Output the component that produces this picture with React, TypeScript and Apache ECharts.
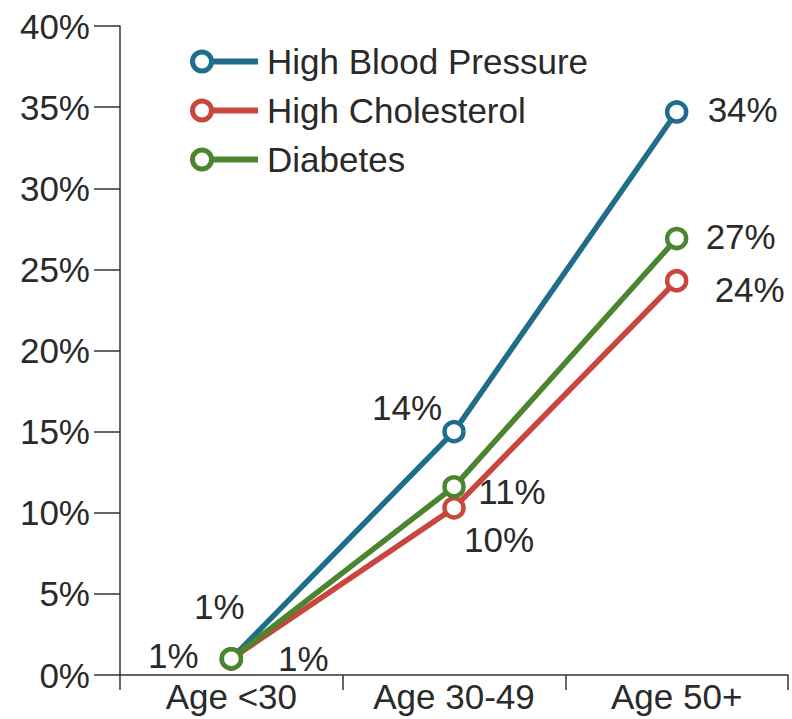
import React, { useEffect, useRef } from "react";
import * as echarts from "echarts";

const categories = ["Age <30", "Age 30-49", "Age 50+"];
const seriesNames = ["High Blood Pressure", "High Cholesterol", "Diabetes"];
const bloodPressure = [1, 15, 34.7];
const cholesterol = [1, 10.3, 24.3];
const diabetes = [1, 11.6, 26.9];
const bloodPressureLabels = ["1%", "14%", "34%"];
const cholesterolLabels = ["1%", "10%", "24%"];
const diabetesLabels = ["1%", "11%", "27%"];
const yTicks = [0, 5, 10, 15, 20, 25, 30, 35, 40];

const colors = ["#1f6d8a", "#c8463c", "#4c8530"];
const labelOffsets = [
  [[-12, -52], [-47, -24], [66, -2]],
  [[72, 0], [45, 32], [73, 9]],
  [[-58, -3], [58, 5], [64, -2]],
];

const iconPath =
  "path://M12,0 A12,12 0 1,1 12,24 A12,12 0 1,1 12,0 Z M12,5 A7,7 0 1,0 12,19 A7,7 0 1,0 12,5 Z M21,9 L68,9 L68,15 L21,15 Z";

export default function App() {
  const ref = useRef<HTMLDivElement>(null);
  useEffect(() => {
    if (!ref.current) return;
    const chart = echarts.init(ref.current, null, { renderer: "svg" });
    const values = [bloodPressure, cholesterol, diabetes];
    const labels = [bloodPressureLabels, cholesterolLabels, diabetesLabels];
    const font = "'Liberation Sans', Arial, sans-serif";
    chart.setOption({
      animation: false,
      textStyle: { fontFamily: font },
      grid: { left: 120, right: 4, top: 26, bottom: 44, containLabel: false },
      legend: {
        left: 185,
        top: 39,
        orient: "vertical",
        itemWidth: 68,
        itemHeight: 24,
        itemGap: 14,
        textStyle: { fontSize: 35, color: "#2a2a2a", fontFamily: font, padding: [0, 0, 0, 4] },
        data: seriesNames.map((n, i) => ({
          name: n,
          icon: iconPath,
          itemStyle: { color: colors[i], borderWidth: 0, borderColor: colors[i] },
        })),
      },
      xAxis: {
        type: "category",
        data: categories,
        boundaryGap: true,
        axisLine: { lineStyle: { color: "#333", width: 1.5 } },
        axisTick: { show: true, length: 15, lineStyle: { color: "#333", width: 1.5 } },
        axisLabel: { fontSize: 35, color: "#2a2a2a", margin: 4, fontFamily: font },
      },
      yAxis: {
        type: "value",
        min: yTicks[0],
        max: yTicks[yTicks.length - 1],
        interval: 5,
        splitLine: { show: false },
        axisLine: { show: true, lineStyle: { color: "#333", width: 1.5 } },
        axisTick: { show: true, length: 26, lineStyle: { color: "#333", width: 1.5 } },
        axisLabel: {
          fontSize: 35,
          color: "#2a2a2a",
          margin: 30,
          fontFamily: font,
          formatter: (v: number) => v + "%",
        },
      },
      series: seriesNames.map((n, si) => ({
        name: n,
        type: "line",
        color: colors[si],
        symbol: "circle",
        symbolSize: 19,
        lineStyle: { color: colors[si], width: 5.5 },
        itemStyle: { color: "#fff", borderColor: colors[si], borderWidth: 4.5 },
        label: {
          show: true,
          position: "inside",
          fontSize: 35,
          color: "#2a2a2a",
          fontFamily: font,
          align: "center",
          verticalAlign: "middle",
          formatter: (p: any) => labels[si][p.dataIndex],
        },
        data: values[si].map((v, i) => ({
          value: v,
          label: { offset: labelOffsets[si][i] },
        })),
      })),
    });
    return () => chart.dispose();
  }, []);
  return <div ref={ref} style={{ width: 792, height: 719, position: "absolute", left: 0, top: 0 }} />;
}
